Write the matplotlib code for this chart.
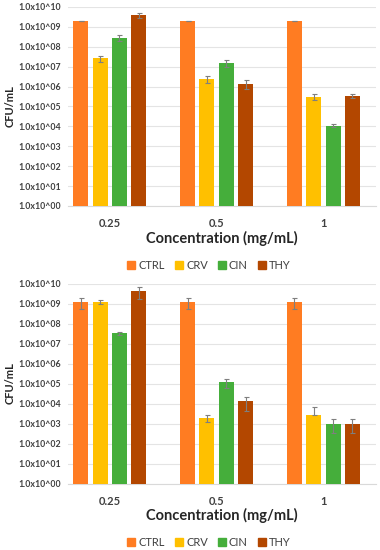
import matplotlib
matplotlib.use("Agg")
import matplotlib.pyplot as plt
import numpy as np

plt.rcParams['font.family'] = ['Lato', 'DejaVu Sans']

concentrations = ['0.25', '0.5', '1']
series = ['CTRL', 'CRV', 'CIN', 'THY']
colors = ['#FF7C22', '#FFC000', '#45AE3B', '#B34700']

# top panel (CFU/mL)
top_vals = {
    'CTRL': [2.0e9, 2.0e9, 2.0e9],
    'CRV': [2.6e7, 2.5e6, 3.0e5],
    'CIN': [2.9e8, 1.5e7, 1.1e4],
    'THY': [4.0e9, 1.4e6, 3.5e5],
}
top_errs = {
    'CTRL': [5e7, 5e7, 5e7],
    'CRV': [8e6, 1.0e6, 1.0e5],
    'CIN': [8.5e7, 5.5e6, 1.6e3],
    'THY': [1.2e9, 6.5e5, 9e4],
}

# bottom panel (CFU/mL)
bot_vals = {
    'CTRL': [1.2e9, 1.2e9, 1.2e9],
    'CRV': [1.2e9, 1.9e3, 2.8e3],
    'CIN': [3.3e7, 1.15e5, 1.0e3],
    'THY': [4.2e9, 1.3e4, 1.0e3],
}
bot_errs = {
    'CTRL': [6.5e8, 6.5e8, 6.5e8],
    'CRV': [3e8, 6.5e2, 4e3],
    'CIN': [6e6, 5.5e4, 650],
    'THY': [2.5e9, 9e3, 650],
}


def draw(ax, vals, errs):
    x = np.arange(len(concentrations))
    step = 0.181
    for i, s in enumerate(series):
        v = np.array(vals[s])
        e = np.array(errs[s])
        # like excel on a log axis: a lower bar that would go below zero is dropped
        lower = np.where(e < v, e, 0)
        ax.bar(x + (i - 1.5) * step, v, width=0.14, color=colors[i],
               yerr=[lower, e], capsize=1.8,
               error_kw=dict(ecolor='#7f7f7f', elinewidth=0.8, capthick=0.8),
               zorder=3)
    ax.set_yscale('log')
    ax.set_ylim(1, 1e10)
    ax.set_xlim(-0.39, 2.49)
    ax.set_yticks([10.0 ** k for k in range(11)])
    ax.set_yticklabels(['1.0x10^%02d' % k for k in range(11)],
                       fontsize=6.3, fontweight='bold', color='#404040')
    ax.minorticks_off()
    ax.set_xticks(x)
    ax.set_xticklabels(concentrations, fontsize=8, fontweight='bold', color='#404040')
    ax.tick_params(length=0, axis='y', pad=5)
    ax.tick_params(length=0, axis='x', pad=9)
    ax.grid(axis='y', color='#e4e4e4', linewidth=0.8, zorder=0)
    for sp in ['left', 'right', 'top']:
        ax.spines[sp].set_visible(False)
    ax.spines['bottom'].set_color('#d9d9d9')
    ax.set_ylabel('CFU/mL', fontsize=8, fontweight='bold', color='#262626')
    ax.yaxis.set_label_coords(-0.17, 0.5)
    ax.set_xlabel('Concentration (mg/mL)', fontsize=10.5, fontweight='bold',
                  color='#262626', labelpad=1)


fig = plt.figure(figsize=(3.8, 5.5), dpi=100)
ax1 = fig.add_axes([0.179, 0.6255, 0.81, 0.3618])
ax2 = fig.add_axes([0.179, 0.1209, 0.81, 0.3636])
draw(ax1, top_vals, top_errs)
draw(ax2, bot_vals, bot_errs)

handles = [plt.Rectangle((0, 0), 1, 1, color=c) for c in colors]
for yy in [0.518, 0.0145]:
    fig.legend(handles, series, loc='center', bbox_to_anchor=(0.55, yy), ncol=4,
               frameon=False, fontsize=8, handlelength=0.7, handleheight=0.7,
               handletextpad=0.3, columnspacing=0.9, labelcolor='#404040')

fig.savefig('out.png', dpi=100)
